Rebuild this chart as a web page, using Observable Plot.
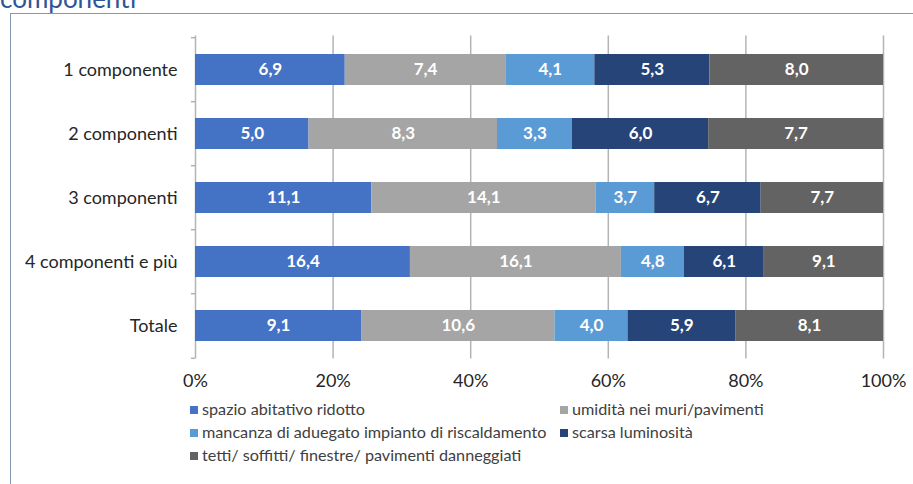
<!DOCTYPE html>
<html>
<head>
<meta charset="utf-8">
<script src="https://cdn.jsdelivr.net/npm/d3@7"></script>
<script src="https://cdn.jsdelivr.net/npm/@observablehq/plot@0.6"></script>
<style>
  body { margin: 0; background: #fff; }
  #wrap { position: relative; width: 913px; height: 484px; overflow: hidden; font-family: Lato, "Open Sans", sans-serif; }
  #title { position: absolute; left: 0px; top: -17px; font-size: 26px; color: #2f5597; line-height: 30px; white-space: nowrap; }
  #frame { position: absolute; left: 10px; top: 13px; width: 960px; height: 520px; border: 1.5px solid #8497b0; }
  #chart { position: absolute; left: 0; top: 0; }
  .leg { position: absolute; font-size: 16.2px; color: #404040; white-space: nowrap; line-height: 18px; }
  .leg i { display: inline-block; width: 8px; height: 8px; margin-right: 4px; vertical-align: 1px; }
</style>
</head>
<body>
<div id="wrap">
  <div id="frame"></div>
  <div id="title">componenti</div>
  <div id="chart"></div>
  <div id="legend"></div>
</div>
<script>
const categories = ["1 componente", "2 componenti", "3 componenti", "4 componenti e più", "Totale"];
const seriesNames = [
  "spazio abitativo ridotto",
  "umidità nei muri/pavimenti",
  "mancanza di aduegato impianto di riscaldamento",
  "scarsa luminosità",
  "tetti/ soffitti/ finestre/ pavimenti danneggiati"
];
const seriesColors = ["#4472c4", "#a5a5a5", "#5b9bd5", "#264478", "#636363"];
const spazio = [6.9, 5.0, 11.1, 16.4, 9.1];
const umidita = [7.4, 8.3, 14.1, 16.1, 10.6];
const riscaldamento = [4.1, 3.3, 3.7, 4.8, 4.0];
const luminosita = [5.3, 6.0, 6.7, 6.1, 5.9];
const tetti = [8.0, 7.7, 7.7, 9.1, 8.1];
const xTicks = [0, 0.2, 0.4, 0.6, 0.8, 1];

const seriesValues = [spazio, umidita, riscaldamento, luminosita, tetti];
const data = [];
categories.forEach((c, i) => {
  seriesNames.forEach((s, j) => {
    data.push({category: c, series: s, value: seriesValues[j][i]});
  });
});
const fmt = v => v.toFixed(1).replace(".", ",");
const stackOpts = {offset: "normalize", order: seriesNames};

const width = 913, height = 395;
const marginTop = 35.5, marginBottom = 36.5, marginLeft = 195, marginRight = 30;
const step = (height - marginTop - marginBottom) / categories.length;
const gridColor = "#b4b4b4";

const chart = Plot.plot({
  width, height, marginTop, marginBottom, marginLeft, marginRight,
  style: {fontFamily: "Lato, 'Open Sans', sans-serif", background: "transparent", overflow: "visible"},
  x: {domain: [0, 1], axis: null},
  y: {domain: categories, paddingInner: 0.52, paddingOuter: 0.26, axis: null},
  color: {domain: seriesNames, range: seriesColors},
  marks: [
    Plot.ruleX(xTicks, {x: d => d, stroke: gridColor, strokeWidth: 1.5}),
    Plot.barX(data, Plot.stackX({...stackOpts, x: "value", y: "category", z: "series", fill: "series"})),
    Plot.text(data, Plot.stackX({...stackOpts, x: "value", y: "category", z: "series", text: d => fmt(d.value),
      fill: "white", fontSize: 17, fontWeight: "bold"})),
    Plot.ruleY(categories, {y: d => d, x1: -0.006, x2: 0, dy: -step / 2, stroke: gridColor, strokeWidth: 1.5}),
    Plot.ruleY(categories.slice(-1), {y: d => d, x1: -0.006, x2: 0, dy: step / 2, stroke: gridColor, strokeWidth: 1.5}),
    Plot.axisY({tickSize: 0, tickPadding: 18, fontSize: 18, color: "#262626", label: null}),
    Plot.axisX(xTicks, {tickSize: 0, tickPadding: 15, fontSize: 18, color: "#262626", label: null,
      tickFormat: d => Math.round(d * 100) + "%"})
  ]
});
document.getElementById("chart").appendChild(chart);

// legend
const legendPos = [
  {x: 190, y: 400}, {x: 560, y: 400},
  {x: 190, y: 423}, {x: 560, y: 423},
  {x: 190, y: 446}
];
const legend = document.getElementById("legend");
seriesNames.forEach((s, j) => {
  const el = document.createElement("div");
  el.className = "leg";
  el.style.left = legendPos[j].x + "px";
  el.style.top = legendPos[j].y + "px";
  el.innerHTML = `<i style="background:${seriesColors[j]}"></i>${s}`;
  legend.appendChild(el);
});
</script>
</body>
</html>
